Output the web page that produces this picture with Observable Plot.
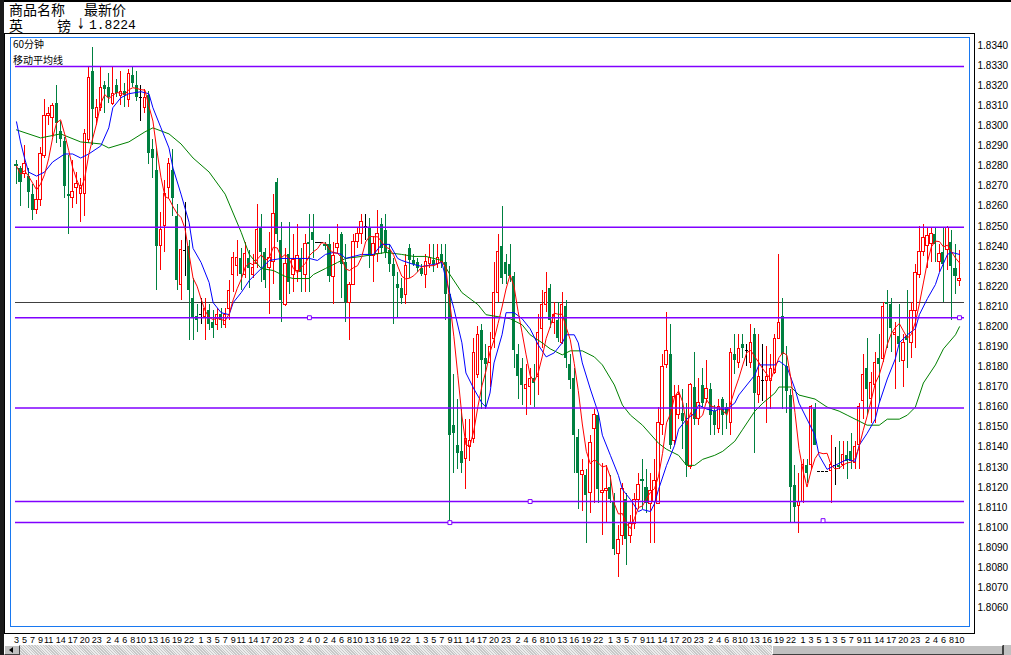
<!DOCTYPE html>
<html><head><meta charset="utf-8">
<script src="https://cdn.jsdelivr.net/npm/d3@7"></script>
<script src="https://cdn.jsdelivr.net/npm/@observablehq/plot@0.6"></script>
<style>
html,body{margin:0;padding:0;background:#fff;}
body{width:1011px;height:655px;overflow:hidden;position:relative;font-family:"Liberation Sans",sans-serif;}
.a{position:absolute;box-sizing:border-box;}
.cjk{font-family:"Noto Sans CJK SC",sans-serif;color:#000;white-space:nowrap;line-height:1;}
</style></head><body>
<div id="chart" class="a" style="left:0;top:0"></div>
<script>
// Candles: prices in pips above 1.8000 (1 pip = 0.0001), hourly bars
const openP = [281,279,276,275,266,258,263,285,305,304,
311,297,292,266,264,269,266,266,293,327,
304,309,320,319,311,320,315,317,313,325,
320,314,309,315,288,278,240,250,269,278,
255,221,238,240,214,205,206,205,208,202,
201,206,201,209,226,230,234,226,234,226,
231,249,237,229,232,272,243,211,236,226,
228,234,226,242,247,242,242,241,241,225,
239,246,232,212,221,242,246,250,249,235,
236,251,248,238,231,221,219,216,239,233,
232,229,226,231,233,231,236,232,216,151,
141,138,134,140,144,176,198,184,182,194,
217,240,232,231,225,186,179,169,170,174,
175,199,211,219,202,203,192,210,181,174,
145,126,126,117,149,156,117,118,120,113,
87,96,114,96,102,114,124,120,112,113,
112,151,181,186,143,156,157,153,130,170,
154,171,164,169,158,149,164,160,152,186,
182,191,188,182,196,166,173,173,173,177,
194,205,180,166,121,111,113,131,131,159,
128,128,128,128,131,131,131,136,138,132,
141,163,179,164,171,184,184,212,211,196,
195,183,195,192,208,226,237,240,241,246,
232,237,238,242,229,223];
const highP = [283,280,290,279,271,273,289,313,309,311,
320,302,294,285,283,277,274,298,329,339,
313,329,322,326,329,323,327,321,328,329,
327,320,318,317,293,289,257,273,284,288,
261,243,262,243,224,211,214,214,211,208,
209,209,209,223,237,243,239,242,238,236,
261,256,239,247,266,274,252,239,252,246,
251,239,246,256,256,242,242,242,246,242,
251,247,241,222,246,249,256,256,254,245,
258,254,256,241,234,227,224,236,241,236,
234,231,236,241,241,241,241,241,230,176,
164,159,154,154,194,200,201,191,197,232,
246,260,236,241,227,191,184,181,179,181,
206,218,227,221,212,212,217,213,186,179,
149,134,129,146,159,157,132,131,126,117,
101,122,117,106,117,127,134,129,127,134,
160,186,207,201,171,171,169,162,172,187,
174,179,183,172,161,164,165,162,189,196,
196,196,191,201,199,196,191,190,186,196,
236,214,190,169,131,127,134,134,161,162,
128,128,128,146,140,143,143,143,147,143,
162,186,194,177,187,196,212,218,214,202,
211,196,218,212,231,250,251,249,249,249,
241,249,250,248,241,238];
const lowP = [271,260,274,259,253,256,260,284,300,294,
291,289,264,246,259,261,252,255,291,290,
300,307,306,311,310,314,310,309,309,319,
312,302,306,281,274,218,228,237,264,255,
218,213,225,193,193,197,201,193,198,194,
198,199,199,203,217,225,218,224,219,224,
229,222,219,206,221,242,202,210,216,217,
222,217,217,217,234,242,242,238,222,211,
236,214,202,193,221,239,241,243,229,222,
232,236,234,227,201,204,211,211,224,230,
227,225,219,229,227,229,229,203,102,127,
129,127,119,133,142,174,159,159,170,189,
212,221,221,222,179,164,161,156,161,160,
166,189,207,199,196,192,191,179,169,127,
109,108,92,107,112,112,96,102,112,86,
75,91,81,92,99,109,109,107,92,92,
112,146,179,139,141,154,139,125,129,151,
151,160,162,146,146,147,146,149,146,176,
179,184,180,179,137,162,163,152,159,176,
194,159,157,102,102,97,112,122,129,141,
128,128,128,112,121,129,129,124,129,129,
129,154,156,152,152,162,182,189,187,169,
182,170,179,184,189,224,235,229,232,232,
227,212,228,203,216,220];
const closeP = [280,272,281,267,258,263,286,305,306,310,
301,293,270,265,267,271,270,296,324,308,
309,319,318,314,316,316,317,315,326,321,
314,314,314,286,284,240,248,266,281,264,
223,238,238,218,204,203,206,209,201,199,
206,203,206,218,234,234,226,236,229,229,
248,237,223,234,256,246,213,231,222,233,
235,227,241,241,243,242,242,240,225,235,
241,231,212,221,242,246,252,250,235,241,
246,239,237,231,225,219,214,230,233,231,
229,226,232,234,231,234,232,216,146,147,
137,132,144,143,187,196,183,181,190,217,
237,224,226,225,188,175,171,171,174,172,
197,211,217,203,206,194,211,184,173,146,
127,128,116,142,156,119,118,119,114,89,
94,119,94,102,114,121,123,112,118,123,
152,180,188,141,165,166,153,131,171,154,
162,162,169,156,151,160,156,157,187,183,
189,189,188,192,167,175,173,175,179,194,
202,186,168,120,110,113,131,127,160,141,
128,128,128,131,131,130,136,133,133,140,
160,176,169,172,182,181,210,211,199,197,
191,192,193,208,227,237,244,245,246,241,
236,231,249,230,225,224];

// Blue moving average: bar index, pips
const blueIdx = [0,1,2,3,5,7,9,12,14,16,18,21,23,24,26,28,31,33,34,36,38,39,41,43,44,46,48,49,51,53,54,56,58,61,63,66,68,71,73,75,77,79,81,82,84,86,89,91,93,95,96,99,101,104,106,107,109,111,112,114,116,117,118,119,121,122,124,126,128,130,132,134,136,137,139,140,141,143,145,146,148,150,151,153,155,156,158,159,160,162,164,165,167,169,170,172,174,175,177,179,180,182,184,185,187,189,190,192,194,195,197,199,200,202,204,205,207,209,210,212,214,215,217,219,220,222,224,225,227,229,230,232,233,235];
const blueVal = [302,292,284,277,275,277,282,286,286,284,286,290,299,309,314,316,317,316,309,299,289,279,266,252,239,232,222,212,207,206,212,217,223,229,233,234,234,234,234,233,236,237,236,234,235,236,236,241,241,234,233,231,230,231,232,224,209,192,177,169,162,160,167,182,196,207,207,204,199,191,185,187,192,196,196,192,182,169,157,146,136,126,119,114,108,109,108,112,119,131,141,149,154,157,161,159,158,159,159,162,166,171,176,181,181,181,183,180,169,162,154,146,136,129,131,132,134,133,141,147,154,162,174,184,192,196,199,206,214,221,227,236,237,236];
// Green moving average: bar index, pips
const greenIdx = [0,6,11,16,21,23,28,32,34,38,41,44,48,52,56,58,61,64,67,69,73,74,77,80,82,86,89,92,96,99,102,106,108,111,115,117,120,123,126,128,131,133,136,138,141,144,146,149,151,153,156,160,162,165,167,169,171,174,176,179,181,184,186,189,190,193,195,199,202,205,207,210,212,215,217,220,222,224,226,229,231,234,235];
const greenVal = [298,294,296,292,291,289,292,297,299,296,291,284,277,266,247,236,229,228,225,224,224,226,229,232,234,235,236,237,236,235,235,233,226,217,211,206,205,204,201,196,192,189,186,188,188,185,181,171,161,156,151,142,139,136,131,131,134,136,138,143,149,158,162,167,170,170,166,164,160,158,156,153,151,151,154,154,156,160,172,181,189,196,200];

// Drawn horizontal lines (price) and their small square anchors
const hLines = [1.83295, 1.82495, 1.82045, 1.81595, 1.8113, 1.81025];
const grayLine = [1.8212];
const anchorIdx = [73, 108, 128, 201, 235];
const anchorVal = [1.82045, 1.81025, 1.8113, 1.81035, 1.82045];

// Axis ticks
const yTicks = [1.806,1.807,1.808,1.809,1.810,1.811,1.812,1.813,1.814,1.815,1.816,1.817,1.818,1.819,1.820,1.821,1.822,1.823,1.824,1.825,1.826,1.827,1.828,1.829,1.830,1.831,1.832,1.833,1.834];
const tickIdx = [0,2,4,6,8,11,14,17,20,23,25,27,29,31,34,37,40,43,46,48,50,52,54,56,59,62,65,68,71,73,75,77,79,81,83,85,88,91,94,97,100,102,104,106,108,110,113,116,119,122,125,127,129,131,133,136,139,142,145,148,150,152,154,156,158,161,164,167,170,173,175,177,179,181,184,187,190,193,196,198,200,202,204,206,208,210,212,215,218,221,224,227,229,231,233,235];
const tickLab = ["3","5","7","9","11","14","17","20","23","2","4","6","8","10","13","16","19","22","1","3","5","7","9","11","14","17","20","23","2","4","0","2","4","6","8","10","13","16","19","22","1","3","5","7","9","11","14","17","20","23","2","4","6","8","10","13","16","19","22","1","3","5","7","9","11","14","17","20","23","2","4","6","8","10","13","16","19","22","1","3","5","1","3","5","7","9","11","14","17","20","23","2","4","6","8","10"];

const P = v => 1.8 + v / 10000;
const candles = openP.map((o, i) => ({i, o: P(o), h: P(highP[i]), l: P(lowP[i]), c: P(closeP[i])}));
const up = candles.filter(d => d.c > d.o);
const down = candles.filter(d => d.c < d.o);
const flat = candles.filter(d => d.c === d.o);
const blue = blueIdx.map((i, k) => ({i, v: P(blueVal[k])}));
const green = greenIdx.map((i, k) => ({i, v: P(greenVal[k])}));
const anchors = anchorIdx.map((i, k) => ({i, v: anchorVal[k]}));
const labMap = new Map(tickIdx.map((t, k) => [t, tickLab[k]]));

const RED = "#ff0000", GRN = "#008040", PUR = "#8000ff";
const crisp = {shapeRendering: "crispEdges"};

const chart = Plot.plot({
  width: 1011, height: 655,
  marginLeft: 15, marginRight: 47, marginTop: 37, marginBottom: 22,
  style: {background: "#fff", color: "#000", fontFamily: "Liberation Sans, sans-serif", fontSize: "10px", overflow: "visible"},
  x: {type: "linear", domain: [0, 235], range: [16, 959]},
  y: {domain: [1.806, 1.834], range: [607.5, 45]},
  marks: [
    Plot.ruleY(grayLine, {y: d => d, stroke: "#404040", strokeWidth: 1, ...crisp}),
    Plot.ruleX(down, {x: "i", y1: "l", y2: "h", stroke: GRN, strokeWidth: 1, ...crisp}),
    Plot.ruleX(up, {x: "i", y1: "l", y2: "h", stroke: RED, strokeWidth: 1, ...crisp}),
    Plot.ruleX(flat, {x: "i", y1: "l", y2: "h", stroke: "#000", strokeWidth: 1, ...crisp}),
    Plot.rect(down, {x1: d => d.i - 0.38, x2: d => d.i + 0.38, y1: "o", y2: "c", fill: GRN, ...crisp}),
    Plot.rect(up, {x1: d => d.i - 0.3, x2: d => d.i + 0.3, y1: "o", y2: "c", fill: "#fff", stroke: RED, strokeWidth: 1, ...crisp}),
    Plot.ruleY(flat, {y: "c", x1: d => d.i - 0.4, x2: d => d.i + 0.4, stroke: "#000", strokeWidth: 1, ...crisp}),
    Plot.line(green, {x: "i", y: "v", stroke: "#008000", strokeWidth: 1}),
    Plot.line(blue, {x: "i", y: "v", stroke: "#0000ff", strokeWidth: 1}),
    Plot.line(candles, Plot.windowY({k: 5, anchor: "end"}, {x: "i", y: "c", stroke: RED, strokeWidth: 1})),
    Plot.ruleY(hLines, {y: d => d, stroke: PUR, strokeWidth: 1.5}),
    Plot.dot(anchors, {x: "i", y: "v", symbol: "square", r: 2.2, stroke: PUR, fill: "#fff", strokeWidth: 1}),
    Plot.axisY(yTicks, {anchor: "right", tickSize: 0, tickPadding: 13, tickFormat: d3.format(".4f"), label: null, fontSize: 10}),
    Plot.axisX(tickIdx, {anchor: "bottom", tickSize: 0, tickPadding: 3, tickFormat: d => labMap.get(d), label: null, fontSize: 9, letterSpacing: "-0.3px"})
  ]
});
document.getElementById("chart").appendChild(chart);
</script>
<!-- window chrome and header -->
<div class="a" style="left:0;top:0;width:1011px;height:2px;background:#000"></div>
<div class="a" style="left:0;top:0;width:4px;height:655px;background:#1a1a1a"></div>
<div class="a" style="left:4px;top:33px;width:971px;height:601px;border:1px solid #000"></div>
<div class="a" style="left:10px;top:37px;width:960px;height:590px;border:1px solid #1878f0"></div>
<div class="a cjk" style="left:9px;top:2px;font-size:14px;height:14px">商品名称</div>
<div class="a cjk" style="left:84px;top:2px;font-size:14px;height:14px">最新价</div>
<div class="a cjk" style="left:9px;top:18px;font-size:14px;height:14px">英</div>
<div class="a cjk" style="left:57px;top:18px;font-size:14px;height:14px">镑</div>
<div class="a" style="left:77px;top:17px;font-size:15px;font-family:'DejaVu Sans',sans-serif;line-height:1;transform:scaleX(0.6);transform-origin:left top">↓</div>
<div class="a" style="left:89px;top:19px;font-size:13px;font-family:'Liberation Mono',monospace;line-height:1">1.8224</div>
<div class="a cjk" style="left:13px;top:39px;font-size:10px">60分钟</div>
<div class="a cjk" style="left:13px;top:55px;font-size:10px">移动平均线</div>
<!-- scrollbar -->
<div class="a" style="left:4px;top:645px;width:1007px;height:10px;background:repeating-linear-gradient(45deg,#c8c8c8 0 1px,#ececec 1px 2px)"></div>
<div class="a" style="left:4px;top:645px;width:16px;height:10px;background:#c0c0c0;border-top:1px solid #fff;border-left:1px solid #fff;border-right:1px solid #404040;border-bottom:1px solid #404040"></div>
<div class="a" style="left:9px;top:647px;width:0;height:0;border-top:3px solid transparent;border-bottom:3px solid transparent;border-right:4px solid #000"></div>
<div class="a" style="left:772px;top:645px;width:231px;height:10px;background:#c0c0c0;border-top:1px solid #fff;border-left:1px solid #fff;border-right:1px solid #404040;border-bottom:1px solid #404040"></div>
<div class="a" style="left:1003px;top:645px;width:8px;height:10px;background:#c0c0c0;border-left:1px solid #404040"></div>
</body></html>
